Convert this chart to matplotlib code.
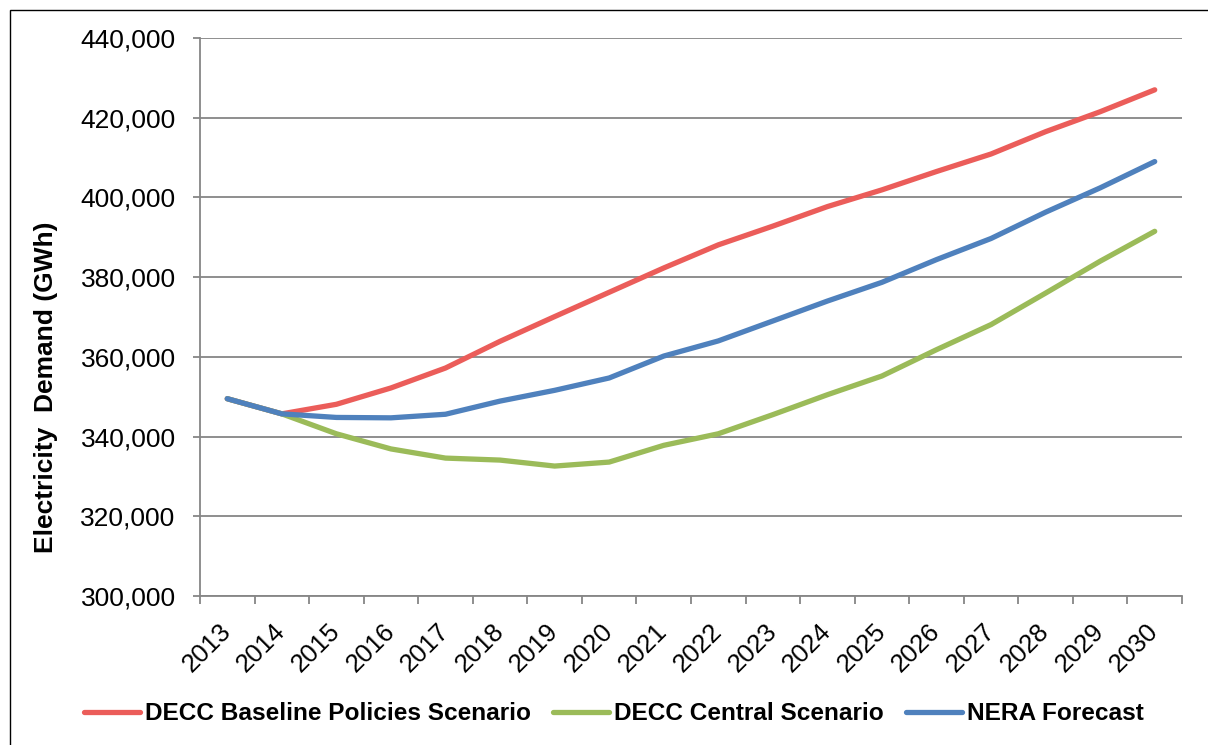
import matplotlib
matplotlib.use("Agg")
import matplotlib.pyplot as plt
from matplotlib.patches import Rectangle
from matplotlib.ticker import FuncFormatter, FixedLocator

plt.rcParams['font.family'] = ['Liberation Sans', 'DejaVu Sans']

# Forecast years and annual electricity demand (GWh)
years = ['2013', '2014', '2015', '2016', '2017', '2018', '2019', '2020', '2021',
         '2022', '2023', '2024', '2025', '2026', '2027', '2028', '2029', '2030']
decc_baseline = [349500, 345700, 348100, 352200, 357200, 363900, 370100, 376200, 382300,
                 388100, 392800, 397700, 401900, 406500, 410900, 416500, 421500, 427000]
decc_central = [349500, 345700, 340700, 336900, 334600, 334100, 332600, 333600, 337800,
                340700, 345500, 350500, 355200, 361800, 368100, 376000, 384000, 391500]
nera_forecast = [349500, 345700, 344800, 344700, 345600, 348900, 351600, 354700, 360200,
                 364000, 369000, 374000, 378700, 384400, 389700, 396300, 402400, 409000]

series_names = ['DECC Baseline Policies Scenario', 'DECC Central Scenario', 'NERA Forecast']
series_colors = ['#EB5D5A', '#9BBB59', '#4F81BD']

W, H = 1208, 745
fig = plt.figure(figsize=(W / 100, H / 100), dpi=100)
ax = fig.add_axes([200 / W, 1 - 596 / H, (1182 - 200) / W, (596 - 38) / H])

x = list(range(len(years)))
for vals, name, col in zip([decc_baseline, decc_central, nera_forecast], series_names, series_colors):
    ax.plot(x, vals, color=col, lw=3.8, label=name,
            solid_capstyle='round', solid_joinstyle='round', zorder=3)

grid_col = '#868686'
ax.set_ylim(300000, 440000)
ax.set_yticks(range(300000, 440001, 20000))
ax.yaxis.set_major_formatter(FuncFormatter(lambda v, p: f'{int(v):,}'))
ax.grid(axis='y', color=grid_col, lw=1.3, zorder=1)
ax.set_axisbelow(True)

ax.set_xlim(-0.5, len(years) - 0.5)
ax.xaxis.set_major_locator(FixedLocator([i - 0.5 for i in range(len(years) + 1)]))
ax.xaxis.set_minor_locator(FixedLocator(x))
ax.set_xticklabels([], minor=False)
ax.set_xticklabels(years, minor=True, rotation=45, ha='right', va='center',
                   rotation_mode='anchor')

for s in ['top', 'right']:
    ax.spines[s].set_visible(False)
for s in ['left', 'bottom']:
    ax.spines[s].set_color(grid_col)
    ax.spines[s].set_linewidth(1.3)

ax.tick_params(axis='y', which='major', length=5, width=1.3, color=grid_col,
               labelsize=19, pad=12.5, labelcolor='black')
ax.tick_params(axis='x', which='major', length=5.8, width=1.3, color=grid_col)
ax.tick_params(axis='x', which='minor', length=0, labelsize=18.5, pad=23,
               labelcolor='black')

fig.text(46 / W, 1 - 387 / H, 'Electricity  Demand (GWh)', rotation=90,
         ha='center', va='center', fontsize=19, fontweight='bold')

leg = fig.legend(loc='center', bbox_to_anchor=(614 / W, 1 - 714 / H), ncol=3,
                 frameon=False, prop={'weight': 'bold', 'size': 17.6},
                 handlelength=2.3, handletextpad=0.2, columnspacing=0.9)
for line in leg.get_lines():
    line.set_linewidth(3.8)
    line.set_solid_capstyle('round')

# Chart frame
fig.patches.append(Rectangle((10 / W, -0.1), 1.2, 1 - 10 / H + 0.1, transform=fig.transFigure,
                             fill=False, edgecolor='black', lw=1.0))

fig.savefig('out.png', dpi=100)
